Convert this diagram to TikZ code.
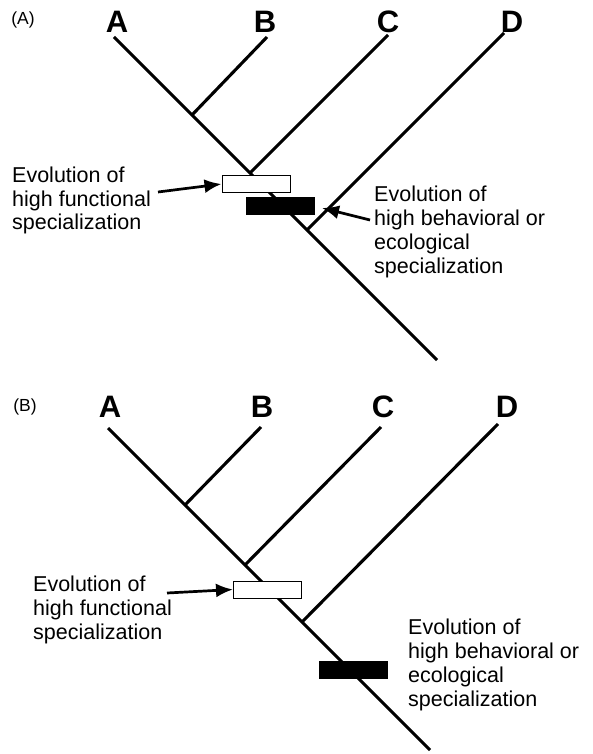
\documentclass[tikz,border=0pt]{standalone}
\usepackage{fontspec}
\setmainfont{Liberation Sans}
\usetikzlibrary{arrows.meta}

\begin{document}
\begin{tikzpicture}[x=1pt ,y=-1pt ,
branch/.style ={line width=3.1pt},
taxon/.style ={font=\fontsize{31}{31}\selectfont\bfseries, inner sep=0},
panel/.style ={font=\fontsize{17.5}{17.5}\selectfont, inner sep=0},
note/.style ={font=\fontsize{21.5}{23.8}\selectfont, align=left,
  inner sep=0, anchor=west},
gain/.style ={draw, line width=1pt, minimum width=68pt,
  minimum height=17pt, inner sep=0},
point/.style ={-{Latex[length=17pt,width=14pt]}, line width=2.7pt}
]
\useasboundingbox (0,0) rectangle (592,754);

% (A)
\node[panel] (pa) at (23,20) {(A)};
\node[taxon] (ta) at (117,22) {A};
\node[taxon] (tb) at (265,22) {B};
\node[taxon] (tc) at (388,22) {C};
\node[taxon] (td) at (512,22) {D};
\coordinate (a1) at (114,37);
\coordinate (b1) at (267,37);
\coordinate (c1) at (388,35);
\coordinate (d1) at (504,33);
\coordinate (nb1) at (192,115);
\coordinate (nc1) at (250,173);
\coordinate (nd1) at (307,230);
\coordinate (root1) at (437,360);
\draw[branch] (a1) -- (root1);
\draw[branch] (b1) -- (nb1);
\draw[branch] (c1) -- (nc1);
\draw[branch] (d1) -- (nd1);
\node[gain, fill=white] (func1) at (256,184) {};
\node[gain, fill=black] (beh1) at (280,206) {};
\node[note] (nf1) at (12,200.5) {Evolution of\\high functional\\specialization};
\node[note] (nb1t) at (374,232) {Evolution of\\high behavioral or\\ecological\\specialization};
\coordinate (tf1) at (158,192);
\coordinate (tb1) at (370,220);
\coordinate (hit1) at (322,208);
\draw[point] (tf1) -- (func1.west);
\draw[point] (tb1) -- (hit1);

% (B)
\node[panel] (pb) at (25,407) {(B)};
\node[taxon] (ta2) at (110,407) {A};
\node[taxon] (tb2) at (262,407) {B};
\node[taxon] (tc2) at (383,407) {C};
\node[taxon] (td2) at (507,407) {D};
\coordinate (a2) at (108,428);
\coordinate (b2) at (261,427);
\coordinate (c2) at (381,427);
\coordinate (d2) at (498,424);
\coordinate (nb2) at (185,505);
\coordinate (nc2) at (245,565);
\coordinate (nd2) at (302,622);
\coordinate (root2) at (430,750);
\draw[branch] (a2) -- (root2);
\draw[branch] (b2) -- (nb2);
\draw[branch] (c2) -- (nc2);
\draw[branch] (d2) -- (nd2);
\node[gain, fill=white] (func2) at (267.5,589.5) {};
\node[gain, fill=black] (beh2) at (353,669.5) {};
\node[note] (nf2) at (33,610) {Evolution of\\high functional\\specialization};
\node[note] (nb2t) at (408,665) {Evolution of\\high behavioral or\\ecological\\specialization};
\coordinate (tf2) at (167,593);
\draw[point] (tf2) -- (func2.west);
\end{tikzpicture}
\end{document}
